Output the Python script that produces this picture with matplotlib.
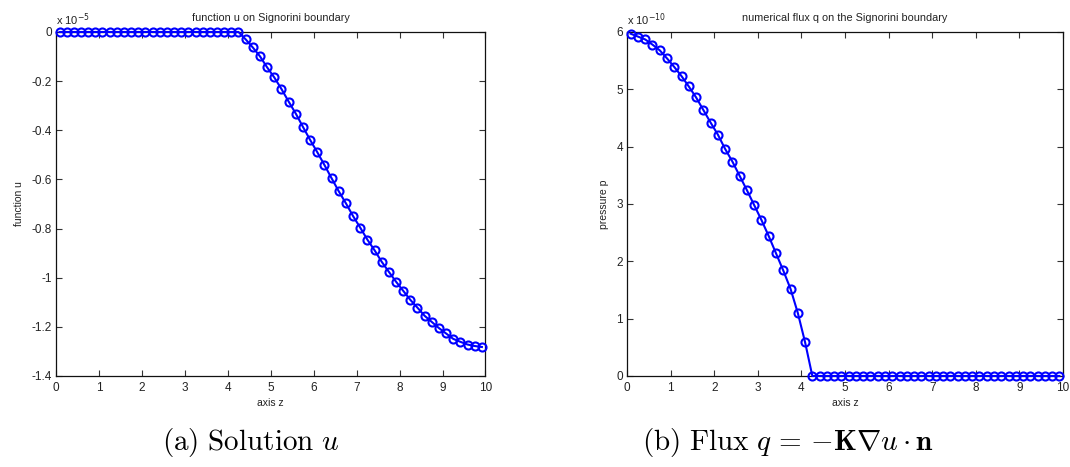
import numpy as np
import matplotlib
matplotlib.use("Agg")
import matplotlib.pyplot as plt
from matplotlib.ticker import FixedLocator, FuncFormatter

plt.rcParams["mathtext.fontset"] = "cm"

# Cell-centre positions along the Signorini boundary (60 cells on [0, 10])
n_cells = 60
z = (np.arange(n_cells) + 0.5) * 10.0 / n_cells

# Displacement u on the boundary, in units of 1e-5
u_scaled = [0.0] * 26 + [
    -0.030, -0.063, -0.099, -0.144, -0.185, -0.232, -0.283, -0.332,
    -0.386, -0.439, -0.489, -0.541, -0.595, -0.648, -0.697, -0.749,
    -0.796, -0.845, -0.888, -0.935, -0.976, -1.016, -1.053, -1.090,
    -1.122, -1.155, -1.180, -1.205, -1.227, -1.249, -1.261, -1.272,
    -1.278, -1.282,
]

# Numerical flux q on the boundary, in units of 1e-10
q_scaled = [
    5.97, 5.92, 5.87, 5.78, 5.68, 5.54, 5.39, 5.23, 5.05, 4.86,
    4.64, 4.42, 4.21, 3.96, 3.74, 3.49, 3.24, 2.98, 2.72, 2.44,
    2.14, 1.84, 1.52, 1.10, 0.59,
] + [0.0] * 35

x_ticks = list(range(0, 11))
u_ticks = [-1.4, -1.2, -1.0, -0.8, -0.6, -0.4, -0.2, 0.0]
q_ticks = [0, 1, 2, 3, 4, 5, 6]

TXT = "#222222"
BLUE = "#0000ff"
FONT = "Liberation Sans"


def fmt(v, _pos=None):
    s = ("%.1f" % v).rstrip("0").rstrip(".")
    if s in ("-0", "0"):
        return "0"
    return s


def style_axes(ax, ylim, yticks, title, ylabel, mult):
    ax.set_xlim(0, 10)
    ax.set_ylim(*ylim)
    ax.xaxis.set_major_locator(FixedLocator(x_ticks))
    ax.yaxis.set_major_locator(FixedLocator(yticks))
    ax.xaxis.set_major_formatter(FuncFormatter(fmt))
    ax.yaxis.set_major_formatter(FuncFormatter(fmt))
    ax.tick_params(direction="in", length=4, width=0.8, top=True, right=True,
                   labelsize=8.5, labelcolor=TXT, color="#333333")
    ax.tick_params(axis="x", pad=4)
    ax.tick_params(axis="y", pad=3)
    for lab in ax.get_xticklabels() + ax.get_yticklabels():
        lab.set_fontfamily(FONT)
    for sp in ax.spines.values():
        sp.set_linewidth(0.9)
        sp.set_color("#111111")
    ax.set_title(title, fontsize=7.8, color=TXT, family=FONT, pad=8)
    ax.set_xlabel("axis z", fontsize=7.5, color=TXT, family=FONT, labelpad=3)
    ax.set_ylabel(ylabel, fontsize=7.5, color=TXT, family=FONT, labelpad=5)
    ax.text(0.0, 1.012, r"x 10$^{%d}$" % mult, transform=ax.transAxes,
            fontsize=8, color=TXT, family=FONT, ha="left", va="bottom",
            math_fontfamily="dejavusans")


fig = plt.figure(figsize=(10.70, 4.67), dpi=100)
ax1 = fig.add_axes([0.0523, 0.1949, 0.4014, 0.7366])
ax2 = fig.add_axes([0.5860, 0.1949, 0.4075, 0.7366])

line_kw = dict(color=BLUE, lw=1.5, marker="o", ms=5.8, mfc="none",
               mec=BLUE, mew=1.5, clip_on=False, zorder=3)

ax1.plot(z, u_scaled, **line_kw)
style_axes(ax1, (-1.4, 0.0), u_ticks, "function u on Signorini boundary",
           "function u", -5)

ax2.plot(z, q_scaled, **line_kw)
style_axes(ax2, (0, 6), q_ticks,
           "numerical flux q on the Signorini boundary", "pressure p", -10)

fig.text(0.234, 0.052, r"$\mathrm{(a)\ Solution}\ u$", fontsize=21,
         ha="center", va="center", color="black")
fig.text(0.736, 0.052,
         r"$\mathrm{(b)\ Flux}\ q\,=\,{-}\mathbf{K}\nabla u \cdot \mathbf{n}$",
         fontsize=21, ha="center", va="center", color="black")

fig.savefig("out.png", dpi=100)
